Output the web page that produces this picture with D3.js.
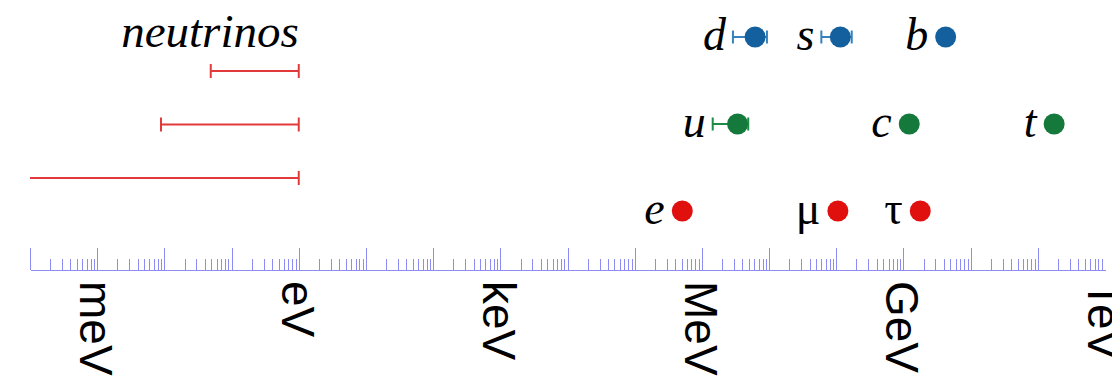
<!DOCTYPE html>
<html>
<head>
<meta charset="utf-8">
<script src="https://cdn.jsdelivr.net/npm/d3@7"></script>
<style>
  html, body { margin: 0; padding: 0; background: #fff; }
  svg { display: block; }
</style>
</head>
<body>
<div id="main"></div>
<script>
!(function () {
  'use strict';

  // data (masses in eV)
  const particles = ['d', 's', 'b', 'u', 'c', 't', 'e', 'μ', 'τ'];
  const families = ['down', 'down', 'down', 'up', 'up', 'up', 'lepton', 'lepton', 'lepton'];
  const masses = [6.2e6, 1.15e8, 4.25e9, 3.4e6, 1.22e9, 1.75e11, 5.11e5, 1.057e8, 1.78e9];
  const massLow = [2.9e6, 6.0e7, null, 1.45e6, null, null, null, null, null];
  const massHigh = [9.3e6, 1.7e8, null, 4.9e6, null, null, null, null, null];

  const neutrinos = ['ν1', 'ν2', 'ν3'];
  const nuLow = [0.049, 0.0089, 0];
  const nuHigh = [1, 1, 1];

  const unitLabels = ['meV', 'eV', 'keV', 'MeV', 'GeV', 'TeV'];
  const unitValues = [1e-3, 1, 1e3, 1e6, 1e9, 1e12];

  // configuration
  const canvas = {
    context: '#main',
    width: 1112,
    height: 382,
    axisY: 270
  };
  const colors = {
    down: '#14609e',
    up: '#14793a',
    lepton: '#e0100f',
    downBar: '#3482bf',
    upBar: '#1f8a45',
    neutrino: '#e23a3a',
    axis: '#8c8cf2'
  };
  const radius = 10.5;
  const serif = '"Liberation Serif", "Times New Roman", serif';

  const svg = d3.select(canvas.context)
    .append('svg')
    .attr('width', canvas.width)
    .attr('height', canvas.height);

  const x = d3.scaleLog()
    .domain([1e-4, 1e12])
    .range([30, 1105])
    .clamp(true);

  const yRow = d3.scalePoint()
    .domain(['down', 'up', 'lepton'])
    .range([37, 211]);

  const yNu = d3.scalePoint()
    .domain(neutrinos)
    .range([71, 178]);

  // axis: tall ticks on decades, short ticks in between
  const allTicks = x.ticks(20).filter(t => t < 1e12);
  const isDecade = t => Math.abs(Math.log10(t) - Math.round(Math.log10(t))) < 1e-9;

  const axisG = svg.append('g')
    .attr('transform', 'translate(0,' + canvas.axisY + ')');

  axisG.append('g')
    .call(d3.axisTop(x)
      .tickValues(allTicks.filter(t => !isDecade(t)))
      .tickSize(11)
      .tickSizeOuter(0)
      .tickFormat(''));
  axisG.append('g')
    .call(d3.axisTop(x)
      .tickValues(allTicks.filter(isDecade))
      .tickSize(22)
      .tickSizeOuter(0)
      .tickFormat(''));
  axisG.selectAll('path, line')
    .attr('stroke', colors.axis)
    .attr('stroke-width', 1)
    .attr('shape-rendering', 'crispEdges');

  // unit labels, rotated
  svg.append('g')
    .selectAll('text')
    .data(unitLabels)
    .enter()
    .append('text')
    .attr('transform', (d, i) => 'translate(' + x(unitValues[i]) + ',281) rotate(90)')
    .attr('y', 17)
    .attr('font-family', '"Liberation Sans", Arial, sans-serif')
    .attr('font-size', 46)
    .attr('fill', '#000')
    .text(d => d);

  // neutrinos
  const nuG = svg.append('g');
  nuG.append('text')
    .attr('x', x(1))
    .attr('y', 47)
    .attr('text-anchor', 'end')
    .attr('font-family', serif)
    .attr('font-style', 'italic')
    .attr('font-size', 47)
    .text('neutrinos');

  neutrinos.forEach(function (n, i) {
    const y = yNu(n);
    const x0 = nuLow[i] > 0 ? x(nuLow[i]) : x.range()[0];
    const x1 = x(nuHigh[i]);
    nuG.append('line')
      .attr('x1', x0).attr('x2', x1)
      .attr('y1', y).attr('y2', y)
      .attr('stroke', colors.neutrino)
      .attr('stroke-width', 2);
    const caps = nuLow[i] > 0 ? [x0, x1] : [x1];
    caps.forEach(function (cx) {
      nuG.append('line')
        .attr('x1', cx).attr('x2', cx)
        .attr('y1', y - 7).attr('y2', y + 7)
        .attr('stroke', colors.neutrino)
        .attr('stroke-width', 2);
    });
  });

  // charged fermions
  const pG = svg.append('g');
  particles.forEach(function (p, i) {
    const fam = families[i];
    const y = yRow(fam);
    const cx = x(masses[i]);
    let left = cx - radius;

    if (massLow[i] !== null) {
      const barColor = fam === 'down' ? colors.downBar : colors.upBar;
      const x0 = x(massLow[i]);
      const x1 = x(massHigh[i]);
      left = x0;
      pG.append('line')
        .attr('x1', x0).attr('x2', x1)
        .attr('y1', y).attr('y2', y)
        .attr('stroke', barColor)
        .attr('stroke-width', 2);
      [x0, x1].forEach(function (ex) {
        pG.append('line')
          .attr('x1', ex).attr('x2', ex)
          .attr('y1', y - 6.5).attr('y2', y + 6.5)
          .attr('stroke', barColor)
          .attr('stroke-width', 2);
      });
    }

    pG.append('circle')
      .attr('cx', cx)
      .attr('cy', y)
      .attr('r', radius)
      .attr('fill', colors[fam]);

    const greek = (p === 'μ' || p === 'τ');
    pG.append('text')
      .attr('x', left - 7)
      .attr('y', y + 13)
      .attr('text-anchor', 'end')
      .attr('font-family', serif)
      .attr('font-style', greek ? 'normal' : 'italic')
      .attr('font-size', 46)
      .text(p);
  });
}());
</script>
</body>
</html>
